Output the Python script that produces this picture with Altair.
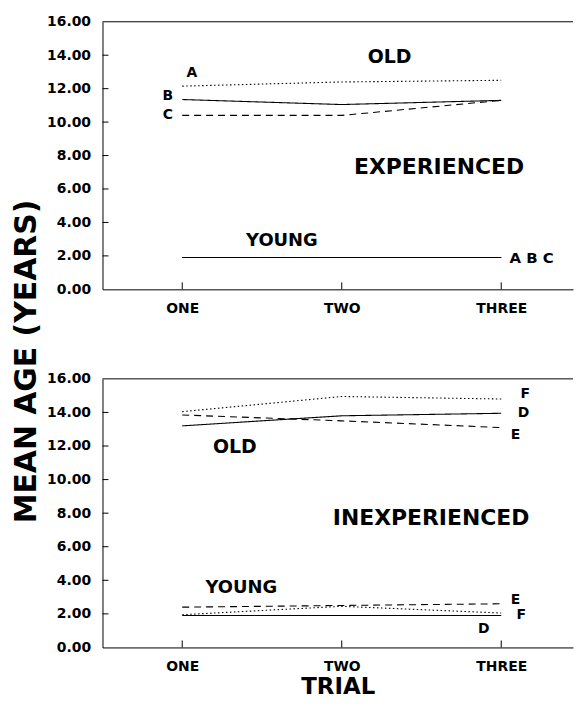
import json
import altair as alt
import pandas as pd

# ---------------- data ----------------
TRIALS = [1, 2, 3]
TRIAL_NAMES = ["ONE", "TWO", "THREE"]
Y_TICKS = [0, 2, 4, 6, 8, 10, 12, 14, 16]

# Experienced panel (series A, B, C)
EXP_OLD_A = [12.15, 12.40, 12.50]
EXP_OLD_B = [11.35, 11.05, 11.30]
EXP_OLD_C = [10.40, 10.40, 11.30]
EXP_YOUNG_A = [1.90, 1.90, 1.90]
EXP_YOUNG_B = [1.90, 1.90, 1.90]
EXP_YOUNG_C = [1.90, 1.90, 1.90]

# Inexperienced panel (series D, E, F)
INEXP_OLD_D = [13.20, 13.80, 13.95]
INEXP_OLD_E = [13.85, 13.50, 13.10]
INEXP_OLD_F = [14.05, 14.95, 14.80]
INEXP_YOUNG_D = [1.90, 1.90, 1.90]
INEXP_YOUNG_E = [2.40, 2.50, 2.60]
INEXP_YOUNG_F = [1.95, 2.45, 2.05]

STYLE = {"A": "dotted", "B": "solid", "C": "dashed",
         "D": "solid", "E": "dashed", "F": "dotted"}

# annotations (text, trial position, age position, font size)
EXP_TEXT = ["OLD", "A", "B", "C", "EXPERIENCED", "YOUNG", "A B C"]
EXP_TEXT_X = [2.30, 1.06, 0.91, 0.91, 2.61, 1.625, 3.19]
EXP_TEXT_Y = [13.92, 12.94, 11.57, 10.44, 7.32, 2.86, 1.90]
EXP_TEXT_SIZE = [19, 14, 14, 14, 22, 18, 15]

INEXP_TEXT = ["F", "D", "E", "OLD", "INEXPERIENCED", "YOUNG", "E", "F", "D"]
INEXP_TEXT_X = [3.15, 3.14, 3.09, 1.33, 2.56, 1.37, 3.09, 3.125, 2.89]
INEXP_TEXT_Y = [15.11, 13.96, 12.68, 11.91, 7.70, 3.56, 2.80, 1.96, 1.10]
INEXP_TEXT_SIZE = [14, 14, 14, 19, 22, 18, 14, 14, 14]

FONT = "DejaVu Sans"
W = 473
X_DOMAIN = [0.5, 3.45]
H_TOP = 269
H_BOT = 270


def lines_frame(series):
    rows = []
    for group, letter, vals in series:
        for t, v in zip(TRIALS, vals):
            rows.append({"key": group + letter, "style": STYLE[letter],
                         "trial": t, "age": v})
    return pd.DataFrame(rows)


def text_frame(texts, xs, ys, sizes):
    return pd.DataFrame({"label": texts, "trial": xs, "age": ys, "fs": sizes})


label_expr = json.dumps(TRIAL_NAMES) + "[datum.value - 1]"


def panel(lines_df, text_df, height, bottom):
    x_axis = alt.Axis(values=TRIALS, labelExpr=label_expr, ticks=False,
                      grid=False, labelPadding=12, labelFontSize=14,
                      labelFont=FONT, labelFontWeight="bold", labelColor="black",
                      domainColor="black", domainWidth=1,
                      title="TRIAL" if bottom else None,
                      titleFont=FONT, titleFontSize=23, titleFontWeight="bold",
                      titleColor="black", titlePadding=2)
    y_kwargs = dict(values=Y_TICKS, format=".2f", ticks=False, grid=False,
                    labelPadding=12, labelFontSize=14, labelFont=FONT,
                    labelFontWeight="bold", labelColor="black",
                    domainColor="black", domainWidth=1)
    if bottom:
        y_axis = alt.Axis(title="MEAN AGE (YEARS)", titleFont=FONT,
                          titleFontSize=30, titleFontWeight="bold",
                          titleColor="black", titleAngle=270,
                          titleAlign="center", titleBaseline="middle",
                          titleX=-76, titleY=-18, **y_kwargs)
    else:
        y_axis = alt.Axis(title=None, **y_kwargs)

    x_enc = alt.X("trial:Q", scale=alt.Scale(domain=X_DOMAIN, nice=False, zero=False),
                  axis=x_axis)
    y_enc = alt.Y("age:Q", scale=alt.Scale(domain=[0, 16], nice=False, zero=False),
                  axis=y_axis)

    lines = alt.Chart(lines_df).mark_line(color="black", strokeWidth=1.1).encode(
        x=x_enc, y=y_enc, detail="key:N",
        strokeDash=alt.StrokeDash("style:N", legend=None,
                                  scale=alt.Scale(domain=["solid", "dashed", "dotted"],
                                                  range=[[1, 0], [7, 5], [1.5, 2.5]])),
    )
    texts = alt.Chart(text_df).mark_text(font=FONT, fontWeight="bold", color="black",
                                         align="center", baseline="middle").encode(
        x=x_enc, y=y_enc, text="label:N", size=alt.Size("fs:Q", scale=None, legend=None))

    ytick_df = pd.DataFrame({"age": Y_TICKS[1:-1]})
    yticks = alt.Chart(ytick_df).mark_rule(color="black", strokeWidth=1).encode(
        y=y_enc, x=alt.value(0), x2=alt.value(6))
    xtick_df = pd.DataFrame({"trial": TRIALS})
    xticks = alt.Chart(xtick_df).mark_rule(color="black", strokeWidth=1).encode(
        x=x_enc, y=alt.value(height - 7), y2=alt.value(height))
    top_df = pd.DataFrame({"age": [Y_TICKS[-1]]})
    top_border = alt.Chart(top_df).mark_rule(color="black", strokeWidth=1).encode(y=y_enc)

    return alt.layer(top_border, yticks, xticks, lines, texts).properties(
        width=W, height=height)


top = panel(
    lines_frame([("old", "A", EXP_OLD_A), ("old", "B", EXP_OLD_B), ("old", "C", EXP_OLD_C),
                 ("young", "A", EXP_YOUNG_A), ("young", "B", EXP_YOUNG_B),
                 ("young", "C", EXP_YOUNG_C)]),
    text_frame(EXP_TEXT, EXP_TEXT_X, EXP_TEXT_Y, EXP_TEXT_SIZE),
    H_TOP, False)

bottom = panel(
    lines_frame([("old", "D", INEXP_OLD_D), ("old", "E", INEXP_OLD_E), ("old", "F", INEXP_OLD_F),
                 ("young", "D", INEXP_YOUNG_D), ("young", "E", INEXP_YOUNG_E),
                 ("young", "F", INEXP_YOUNG_F)]),
    text_frame(INEXP_TEXT, INEXP_TEXT_X, INEXP_TEXT_Y, INEXP_TEXT_SIZE),
    H_BOT, True)

chart = alt.vconcat(top, bottom, spacing=90, bounds="flush").properties(
    padding={"left": 3, "top": 5, "right": 0, "bottom": 0},
    background="white",
).configure_view(stroke=None)

chart.save("out.html", embed_options={"renderer": "svg", "actions": False})
